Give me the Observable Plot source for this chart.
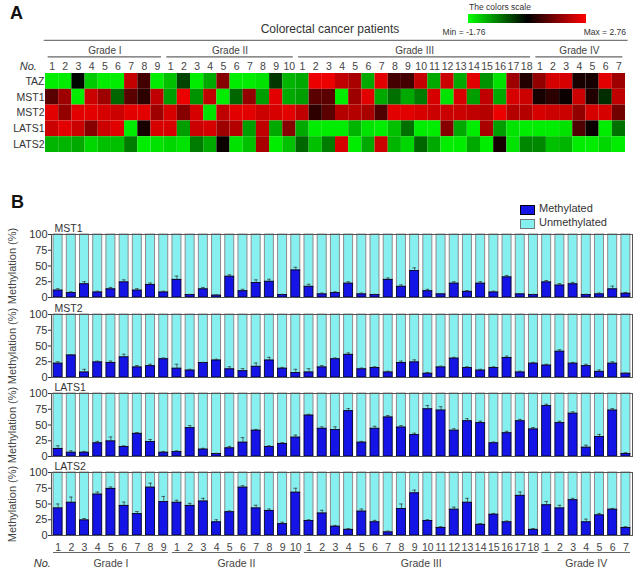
<!DOCTYPE html>
<html>
<head>
<meta charset="utf-8">
<script src="https://cdn.jsdelivr.net/npm/d3@7"></script>
<script src="https://cdn.jsdelivr.net/npm/@observablehq/plot@0.6"></script>
<style>
  html, body { margin: 0; padding: 0; background: #fff; }
  #root { position: relative; width: 642px; height: 584px; overflow: hidden; font-family: "Liberation Sans", Arial, sans-serif; color: #333; }
  .abs { position: absolute; }
  .lbl { position: absolute; white-space: nowrap; }
</style>
</head>
<body>
<div id="root"></div>
<script>
// ---------- DATA ----------
const grades = ["Grade I", "Grade II", "Grade III", "Grade IV"];
const gradeSizes = [9, 10, 18, 7];

// Panel A: relative expression (heat map), 44 patients per gene
const genesA = ["TAZ", "MST1", "MST2", "LATS1", "LATS2"];
const tazExpr = [-1.6,-1.6,0.45,-1.3,-1.6,-1.6,2.25,1.1,-1.6,
  -1.2,-0.1,-1.6,-1.0,1.7,-1.6,-1.6,-1.5,0.0,-1.1,
  -1.0,2.6,2.6,2.2,2.0,-1.0,2.5,1.1,1.1,2.25,-1.0,2.3,-1.0,2.5,-0.8,-1.5,1.9,0.8,
  1.8,2.4,2.4,0.7,0.7,2.5,1.9];
const mst1Expr = [1.3,1.9,-1.6,2.3,1.9,-0.4,1.3,0.9,2.2,
  -0.9,2.6,-0.8,2.2,-1.6,-0.4,1.8,-0.9,2.5,-1.0,
  -0.9,1.3,1.3,-1.6,1.9,2.5,-1.0,-0.5,-1.0,-0.6,2.4,-1.5,2.4,-0.9,2.2,-1.0,2.4,2.3,
  0.7,0.9,0.6,2.3,0.8,0.1,2.2];
const mst2Expr = [2.5,1.8,2.5,2.5,2.4,2.3,2.5,2.5,1.9,
  2.4,1.7,2.4,-1.5,2.2,2.5,2.5,2.3,2.4,2.5,
  2.2,0.9,1.3,2.1,2.1,2.0,1.2,2.5,2.5,2.4,2.3,2.3,2.3,2.2,2.1,2.6,2.1,2.1,
  2.4,2.3,2.3,1.8,2.4,2.4,1.5];
const lats1Expr = [2.3,2.5,2.3,1.7,2.3,2.5,-1.6,0.7,2.4,
  2.4,-0.9,2.3,2.4,1.9,2.1,-0.9,2.2,-1.0,1.7,
  -1.0,-1.6,-1.6,-1.6,-1.1,-1.5,-1.6,-1.2,-0.5,-1.6,-1.6,1.7,-1.0,-1.6,2.0,-0.9,-1.5,-1.6,
  -1.6,-1.6,-1.5,1.2,0.6,-1.6,-0.5];
const lats2Expr = [-1.1,-1.1,-1.0,-1.4,-1.2,-1.2,-0.6,-1.6,-1.5,
  -1.4,-1.5,-0.6,-1.0,0.6,-1.5,-1.2,2.0,-1.6,-1.2,
  -0.4,-1.2,-0.6,2.4,-1.6,-1.0,2.3,-1.1,-1.4,-0.4,-1.0,-1.6,-1.6,-1.0,-1.6,0.7,-1.5,-0.7,
  -0.7,-1.2,-1.1,-1.6,-1.6,-1.4,-1.6];
const exprMin = -1.76, exprMax = 2.76;

// Panel B: methylation (%) and error
const genesB = ["MST1", "MST2", "LATS1", "LATS2"];
const mst1Meth = [11,7,21,8,13,24,11,20,8, 28,4,13,3,33,10,23,25,4,43,
  17,5,7,22,5,4,28,17,42,10,5,22,9,22,8,32,5,4, 24,19,21,4,5,13,6];
const mst1Err = [3,2,4,2,3,4,3,3,2, 6,1,3,1,3,3,5,4,1,5,
  4,2,2,3,2,1,3,3,5,3,1,3,2,3,2,3,1,1, 3,3,3,1,2,5,2];
const mst2Meth = [22,35,8,24,23,32,16,18,29, 14,11,23,27,13,10,17,27,14,7,
  8,16,29,36,13,15,8,23,24,6,16,30,15,11,15,31,8,22, 19,41,22,18,9,22,6];
const mst2Err = [3,1,5,2,3,5,3,3,2, 7,2,1,2,4,4,6,5,2,6,
  6,3,2,3,2,2,2,3,4,2,2,2,2,2,2,3,2,2, 2,3,2,3,3,3,1];
const lats1Meth = [12,6,6,21,24,15,36,23,6, 7,45,11,4,13,22,41,15,20,30,
  65,44,42,72,22,44,62,46,34,75,73,41,56,53,21,37,56,43, 80,53,68,14,31,73,4];
const lats1Err = [5,3,2,3,7,2,2,4,2, 2,4,2,1,3,8,2,2,2,4,
  2,3,5,4,2,4,3,3,3,6,6,3,4,3,2,3,3,3, 3,3,3,4,4,3,2];
const lats2Meth = [43,52,24,65,74,47,34,76,53, 52,47,54,21,37,76,43,39,18,68,
  23,35,14,9,38,21,5,42,67,23,12,41,52,17,33,21,63,9, 48,43,56,21,32,41,12];
const lats2Err = [7,9,3,4,3,6,4,7,9, 4,4,5,4,2,3,5,3,3,7,
  2,5,2,2,4,3,2,8,5,2,2,4,7,2,2,2,6,2, 6,5,3,5,3,2,2];

// ---------- DERIVED ----------
const exprRows = [tazExpr, mst1Expr, mst2Expr, lats1Expr, lats2Expr];
const methRows = [mst1Meth, mst2Meth, lats1Meth, lats2Meth];
const errRows = [mst1Err, mst2Err, lats1Err, lats2Err];
const groups = [];
let s = 0;
grades.forEach((g, k) => { groups.push({name: g, start: s, end: s + gradeSizes[k]}); s += gradeSizes[k]; });
const patientNo = groups.flatMap(g => d3.range(1, g.end - g.start + 1));
const heatData = genesA.flatMap((g, r) => exprRows[r].map((v, i) => ({r, i, v})));

const font = "'Liberation Sans', Arial, sans-serif";
const methColor = "#1414e6";
const unmethColor = "#86f0f0";
const gGreen = "#00ff00", gBlack = "#000000", gRed = "#ff0000";
const midVal = 0.5;

const root = document.getElementById("root");
function place(el, left, top) {
  const d = document.createElement("div");
  d.className = "abs"; d.style.left = left + "px"; d.style.top = top + "px";
  d.appendChild(el); root.appendChild(d); return d;
}
function label(text, css) {
  const d = document.createElement("div");
  d.className = "lbl"; d.textContent = text; Object.assign(d.style, css); root.appendChild(d); return d;
}

// ---------- PANEL A ----------
const heat = Plot.plot({
  width: 642, height: 160,
  marginLeft: 45, marginRight: 17, marginTop: 73, marginBottom: 8,
  style: {background: "transparent", overflow: "visible", fontFamily: font, fontSize: "10.5px", color: "#333"},
  x: {domain: [0, 44], axis: null},
  y: {domain: [0, 5], reverse: true, axis: null},
  color: {type: "linear", domain: [exprMin, midVal, exprMax], range: [gGreen, gBlack, gRed], interpolate: "rgb"},
  marks: [
    Plot.rect(heatData, {x1: "i", x2: d => d.i + 1, y1: "r", y2: d => d.r + 1, fill: "v"}),
    Plot.text(genesA, {x: 0, y: (d, i) => i + 0.5, text: d => d, textAnchor: "end", dx: -1, fill: "#333"}),
    Plot.text(patientNo, {x: (d, i) => i + 0.5, y: -0.42, text: d => String(d), fill: "#444"}),
    Plot.text(["No."], {x: -1.3, y: -0.42, text: d => d, fontStyle: "italic", fontSize: 11, fill: "#333"}),
    Plot.ruleY(groups, {y: -1.05, x1: d => d.start + 0.2, x2: d => d.end - 0.2, stroke: "#666", strokeWidth: 1.2}),
    Plot.text(groups, {x: d => (d.start + d.end) / 2, y: -1.42, text: "name", fill: "#444", fontSize: 10}),
    Plot.ruleY([0], {y: -2.1, x1: -0.1, x2: 44.2, stroke: "#777", strokeWidth: 1.2})
  ]
});
place(heat, 0, 0);

label("A", {left: "10px", top: "3px", fontSize: "18px", fontWeight: "bold", color: "#111"});
label("Colorectal cancer patients", {left: "330px", top: "22px", transform: "translateX(-50%)", fontSize: "12px", color: "#333"});
label("The colors scale", {left: "500px", top: "2px", transform: "translateX(-50%)", fontSize: "8.5px", color: "#333"});
const bar = document.createElement("div");
const midPct = ((midVal - exprMin) / (exprMax - exprMin) * 100).toFixed(1);
Object.assign(bar.style, {position: "absolute", left: "468px", top: "14px", width: "118px", height: "9px",
  background: `linear-gradient(to right, ${gGreen}, ${gBlack} ${midPct}%, ${gRed})`});
root.appendChild(bar);
label("Min = " + exprMin, {left: "464px", top: "27px", transform: "translateX(-50%)", fontSize: "8.5px", color: "#333"});
label("Max = " + exprMax, {right: "16px", top: "27px", fontSize: "8.5px", color: "#333"});

// ---------- PANEL B ----------
label("B", {left: "11px", top: "192px", fontSize: "18px", fontWeight: "bold", color: "#111"});
function swatch(left, top, color, stroke) {
  const d = document.createElement("div");
  Object.assign(d.style, {position: "absolute", left: left + "px", top: top + "px", width: "13px", height: "8px", background: color, border: "1px solid " + stroke});
  root.appendChild(d);
}
swatch(520, 205, methColor, "#000");
label("Methylated", {left: "539px", top: "202px", fontSize: "11px", color: "#333"});
swatch(520, 219, unmethColor, "#777");
label("Unmethylated", {left: "539px", top: "216px", fontSize: "11px", color: "#333"});

const panelTops = [234, 314, 393, 472];
const inner = 63;
genesB.forEach((gene, k) => {
  const last = k === genesB.length - 1;
  const rows = methRows[k].map((v, i) => ({i, v, e: errRows[k][i], n: patientNo[i]}));
  const mt = 14, mb = last ? 40 : 4;
  const marks = [
    Plot.rect(rows, {x1: "i", x2: d => d.i + 1, y1: "v", y2: 100, fill: unmethColor, stroke: "#8c8c8c", strokeWidth: 1, insetLeft: 2.1, insetRight: 2.1}),
    Plot.rect(rows, {x1: "i", x2: d => d.i + 1, y1: 0, y2: "v", fill: methColor, stroke: "#000022", strokeWidth: 0.9, insetLeft: 2.1, insetRight: 2.1}),
    Plot.ruleX(rows, {x: d => d.i + 0.5, y1: "v", y2: d => d.v + d.e, stroke: "#333", strokeWidth: 0.7}),
    Plot.ruleY(rows, {y: d => d.v + d.e, x1: d => d.i + 0.36, x2: d => d.i + 0.64, stroke: "#333", strokeWidth: 0.7}),
    Plot.frame({stroke: "#555", strokeWidth: 1}),
    Plot.text([gene], {frameAnchor: "top-left", text: d => d, textAnchor: "start", lineAnchor: "bottom", dx: 3, dy: -3, fontSize: 10.5, fill: "#333"}),
    Plot.text(["Methylation (%)"], {frameAnchor: "left", text: d => d, textAnchor: "middle", rotate: -90, dx: -39, fontSize: 11, fill: "#444"})
  ];
  if (last) {
    marks.push(
      Plot.text(rows, {x: d => d.i + 0.5, y: 0, text: d => String(d.n), dy: 12, fill: "#444", fontSize: 10.5}),
      Plot.ruleY(groups, {y: 0, dy: 17, x1: d => d.start + 0.15, x2: d => d.end - 0.15, stroke: "#666", strokeWidth: 1.2}),
      Plot.text(groups, {x: d => (d.start + d.end) / 2, y: 0, dy: 28, text: "name", fill: "#444", fontSize: 10.5}),
      Plot.text(["No."], {x: -0.7, y: 0, dy: 28, text: d => d, fontStyle: "italic", fontSize: 11, fill: "#333"})
    );
  }
  const p = Plot.plot({
    width: 642, height: mt + inner + mb,
    marginLeft: 51, marginRight: 10, marginTop: mt, marginBottom: mb,
    style: {background: "transparent", overflow: "visible", fontFamily: font, fontSize: "11px", color: "#333"},
    x: {domain: [0, 44], axis: null},
    y: {domain: [0, 100], ticks: [0, 25, 50, 75, 100], tickSize: 3, tickPadding: 1, label: null},
    marks
  });
  place(p, 0, panelTops[k] - mt);
});
</script>
</body>
</html>
